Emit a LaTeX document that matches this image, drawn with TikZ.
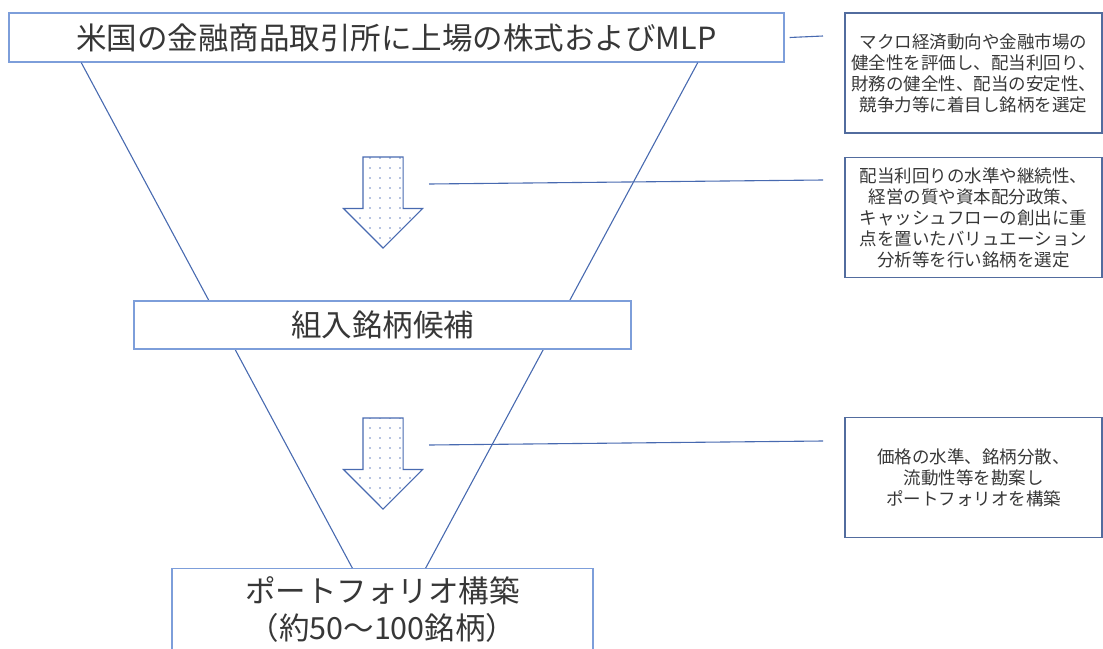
\documentclass[tikz,border=0pt]{standalone}
\usepackage{fontspec}
\setmainfont{Noto Sans CJK JP}
\usetikzlibrary{positioning,shapes.arrows,patterns.meta}
\definecolor{boxblue}{RGB}{125,158,218}
\definecolor{lineblue}{RGB}{72,106,176}
\definecolor{noteblue}{RGB}{82,108,158}
\definecolor{textgray}{RGB}{55,55,55}

\begin{document}
\begin{tikzpicture}[x=1pt, y=-1pt,
  stagebox/.style={draw=boxblue, line width=1.4pt, fill=white, text=textgray,
    font=\fontsize{30.5}{37}\selectfont, align=center, inner sep=0pt},
  notebox/.style={draw=noteblue, line width=1.2pt, text=textgray,
    font=\fontsize{17.5}{21}\selectfont, align=center,
    minimum width=257pt, minimum height=120pt, inner sep=0pt},
  funnel/.style={draw=lineblue, line width=1.1pt},
  downarrow/.style={single arrow, rotate=-90, draw=lineblue, line width=1.1pt,
    pattern={Dots[distance=10pt, radius=0.9pt]}, pattern color=lineblue!80,
    minimum height=91pt, single arrow head extend=19.5pt,
    single arrow tip angle=90, inner xsep=0pt, inner ysep=19.5pt}]
\useasboundingbox (0,0) rectangle (1103,648);

% stages of the funnel
\node[stagebox, minimum width=775pt, minimum height=49pt] (listed) at (396.5,37.5) {米国の金融商品取引所に上場の株式およびMLP};
\node[stagebox, anchor=north, minimum width=421pt, minimum height=82pt] (portfolio) at (382.5,568) {ポートフォリオ構築\\（約50～100銘柄）};

\draw[funnel] ([xshift=73pt]listed.south west) -- ([xshift=181pt]portfolio.north west);
\draw[funnel] ([xshift=-87pt]listed.south east) -- ([xshift=-168pt]portfolio.north east);

\node[stagebox, minimum width=497pt, minimum height=48pt] (candidates) at (382.5,325) {組入銘柄候補};

\node[downarrow] (step1) at (383,192.5) {};
\node[downarrow] (step2) at (383,453.5) {};

% notes on the right
\node[notebox] (note1) at (973.5,73) {マクロ経済動向や金融市場の\\健全性を評価し、配当利回り、\\財務の健全性、配当の安定性、\\競争力等に着目し銘柄を選定};
\node[notebox] (note2) at (973.5,217.5) {配当利回りの水準や継続性、\\経営の質や資本配分政策、\\キャッシュフローの創出に重\\点を置いたバリュエーション\\分析等を行い銘柄を選定};
\node[notebox] (note3) at (973.5,477.5) {価格の水準、銘柄分散、\\流動性等を勘案し\\ポートフォリオを構築};

\coordinate (lead0) at (823,36);
\coordinate (from1) at (429,184);
\coordinate (lead1) at (823,180);
\coordinate (from2) at (429,445);
\coordinate (lead2) at (823,441);

\draw[funnel] ([xshift=5pt]listed.east) -- (lead0);
\draw[funnel] (from1) -- (lead1);
\draw[funnel] (from2) -- (lead2);
\end{tikzpicture}
\end{document}
